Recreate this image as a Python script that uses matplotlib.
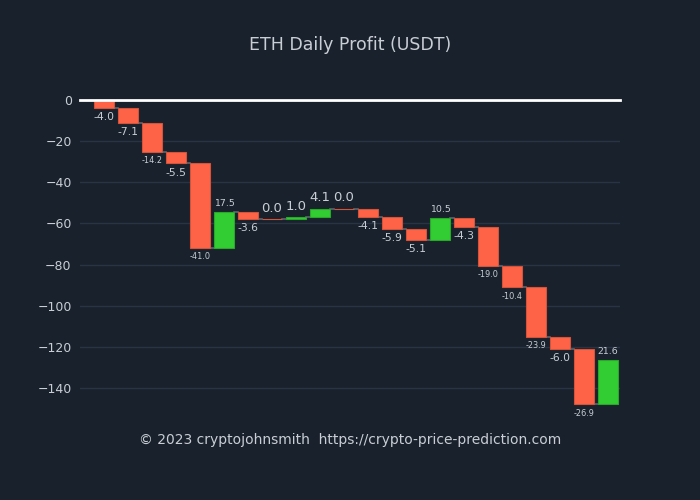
import matplotlib
matplotlib.use('Agg')
import matplotlib.pyplot as plt
import numpy as np

# Daily profit values (USDT)
profits = [-4.0, -7.1, -14.2, -5.5, -41.0, 17.5, -3.6, 0.0, 1.0, 4.1, 0.0,
           -4.1, -5.9, -5.1, 10.5, -4.3, -19.0, -10.4, -23.9, -6.0, -26.9, 21.6]
y_ticks = [0, -20, -40, -60, -80, -100, -120, -140]

BG = '#19212c'
GRID = '#283442'
TEXT = '#c9ced4'
RED = '#ff6347'
GREEN = '#32cd32'

# rough glyph widths (em) for fitting labels to bar width like plotly does
CHAR_W = {'-': 0.361, '.': 0.318}


def label_size(s, bar_px=21.0):
    w = sum(CHAR_W.get(c, 0.636) for c in s)
    px = min(14.0, bar_px / w)
    return px * 72 / 100


fig = plt.figure(figsize=(7, 5), dpi=100, facecolor=BG)
ax = fig.add_axes([80 / 700, 80 / 500, 540 / 700, 320 / 500])
ax.set_facecolor(BG)

vals = np.array(profits)
ends = np.cumsum(vals)
starts = ends - vals
x = np.arange(len(vals))
width = 0.8
colors = [GREEN if v > 0 else RED for v in vals]
edges = ['#2aa82a' if v > 0 else '#d4533b' for v in vals]

ax.bar(x, vals, bottom=starts, width=width, color=colors, zorder=3,
       edgecolor=edges, linewidth=0.8)

# connectors
for i in range(len(vals) - 1):
    ax.plot([x[i] + width / 2, x[i + 1] - width / 2], [ends[i], ends[i]],
            color='#5d6670', lw=1.2, zorder=2)

# value labels
for i, v in enumerate(vals):
    s = f"{v:.1f}"
    fs = label_size(s)
    if v < 0:
        ax.annotate(s, (x[i], ends[i]), xytext=(0, -3), textcoords='offset points',
                    ha='center', va='top', color=TEXT, fontsize=fs)
    else:
        ax.annotate(s, (x[i], ends[i]), xytext=(0, 3), textcoords='offset points',
                    ha='center', va='bottom', color=TEXT, fontsize=fs)

ax.set_xlim(-1.0, 21.5)
ax.set_ylim(-155.5, 0)
ax.set_xticks([])
ax.set_yticks(y_ticks)
ax.tick_params(axis='y', length=0, colors=TEXT, labelsize=9, pad=6)
ax.grid(axis='y', color=GRID, lw=1, zorder=0)
ax.axhline(0, color='white', lw=2, zorder=4, clip_on=False)
for sp in ax.spines.values():
    sp.set_visible(False)

fig.text(0.5, 1 - 45 / 500, 'ETH Daily Profit (USDT)', ha='center', va='center',
         color=TEXT, fontsize=12.5)
fig.text(0.5, 1 - 440 / 500,
         '\u00a9 2023 cryptojohnsmith  https://crypto-price-prediction.com',
         ha='center', va='center', color=TEXT, fontsize=10)

plt.savefig('out.png', dpi=100, facecolor=BG)
plt.close()
